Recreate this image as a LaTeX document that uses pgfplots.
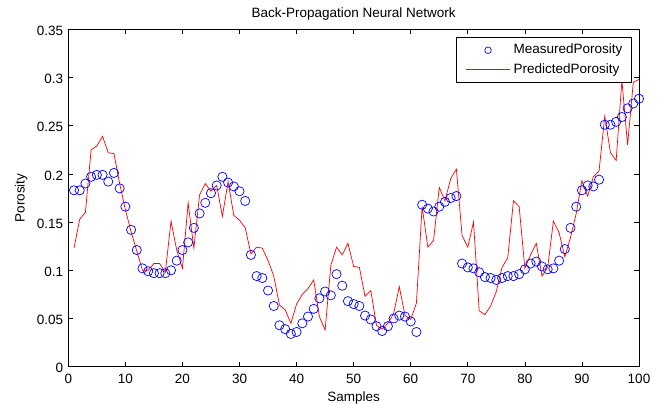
\documentclass[border=0pt]{standalone}
\usepackage{fontspec}
\setmainfont{Liberation Sans}
\usepackage{pgfplots}
\pgfplotsset{compat=1.18}
\pgfplotsset{
  markleg/.style={legend image code/.code={
    \draw[##1, mark size=3.3pt] plot[only marks] coordinates {(21.85pt,0pt)};}},
  lineleg/.style={legend image code/.code={\draw[color=red, draw=red, line width=0.8pt, solid] (0pt,0pt) -- (43.7pt,0pt);}},
}
\begin{document}
\begin{tikzpicture}[font=\fontsize{13.5}{16}\selectfont]
\begin{axis}[
  scale only axis, width=570.7pt, height=337.4pt,
  xmin=0, xmax=100, ymin=0, ymax=0.35,
  xtick={0,10,20,30,40,50,60,70,80,90,100},
  ytick={0,0.05,0.1,0.15,0.2,0.25,0.3,0.35},
  yticklabels={0,0.05,0.1,0.15,0.2,0.25,0.3,0.35},
  /pgf/number format/assume math mode=true,
  tick align=inside, tick pos=both, major tick length=5pt,
  axis line style={black, line width=1pt},
  every tick/.style={black, line width=0.7pt},
  xticklabel style={anchor=base, inner sep=0pt, yshift=-17.3pt},
  yticklabel style={anchor=east, inner sep=0pt, xshift=-5pt, yshift=-1.5pt},
  title={Back-Propagation Neural Network},
  every axis title/.style={at={(axis description cs:0.5,1.034)}, anchor=base, inner sep=0pt},
  xlabel={Samples},
  every axis x label/.style={at={(axis description cs:0.5,-0.1031)}, anchor=base, inner sep=0pt},
  ylabel={Porosity},
  every axis y label/.style={at={(axis description cs:-0.0767,0.5)}, rotate=90, anchor=base, inner sep=0pt},
  clip=false,
  legend cell align=left,
  legend style={draw=black, line width=0.9pt, fill=white,
    at={(axis description cs:0.9883,0.9763)}, anchor=north east,
    inner xsep=9.5pt, inner ysep=6pt, row sep=6.5pt, column sep=3.3pt,
    font=\fontsize{13.5}{15}\selectfont,
    nodes={inner sep=0pt, text height=10pt, text depth=3pt}},
]
\addplot[only marks, mark=o, mark size=4.6pt, color=blue, mark options={line width=0.7pt}, markleg] coordinates {
(1,0.183) (2,0.183) (3,0.190) (4,0.197) (5,0.199) (6,0.199) (7,0.192) (8,0.201) (9,0.185) (10,0.166)
(11,0.142) (12,0.121) (13,0.102) (14,0.099) (15,0.097) (16,0.097) (17,0.097) (18,0.100) (19,0.110) (20,0.121)
(21,0.129) (22,0.144) (23,0.159) (24,0.170) (25,0.180) (26,0.188) (27,0.197) (28,0.191) (29,0.187) (30,0.182)
(31,0.172) (32,0.116) (33,0.094) (34,0.092) (35,0.079) (36,0.063) (37,0.043) (38,0.039) (39,0.034) (40,0.036)
(41,0.045) (42,0.052) (43,0.060) (44,0.071) (45,0.078) (46,0.074) (47,0.096) (48,0.084) (49,0.068) (50,0.065)
(51,0.063) (52,0.053) (53,0.049) (54,0.042) (55,0.037) (56,0.042) (57,0.050) (58,0.053) (59,0.052) (60,0.047)
(61,0.036) (62,0.168) (63,0.164) (64,0.161) (65,0.166) (66,0.171) (67,0.175) (68,0.177) (69,0.107) (70,0.103)
(71,0.102) (72,0.098) (73,0.093) (74,0.092) (75,0.090) (76,0.092) (77,0.094) (78,0.094) (79,0.096) (80,0.101)
(81,0.107) (82,0.109) (83,0.104) (84,0.101) (85,0.102) (86,0.110) (87,0.122) (88,0.144) (89,0.166) (90,0.183)
(91,0.188) (92,0.187) (93,0.194) (94,0.251) (95,0.251) (96,0.254) (97,0.259) (98,0.268) (99,0.273) (100,0.278)
};
\addlegendentry{MeasuredPorosity}
\addplot[color=red, line width=0.7pt, mark=none, lineleg] coordinates {
(1,0.123) (2,0.153) (3,0.160) (4,0.225) (5,0.229) (6,0.239) (7,0.222) (8,0.221) (9,0.190) (10,0.163)
(11,0.140) (12,0.120) (13,0.100) (14,0.100) (15,0.107) (16,0.107) (17,0.098) (18,0.151) (19,0.121) (20,0.102)
(21,0.170) (22,0.123) (23,0.178) (24,0.190) (25,0.182) (26,0.188) (27,0.156) (28,0.192) (29,0.157) (30,0.152)
(31,0.144) (32,0.117) (33,0.124) (34,0.123) (35,0.110) (36,0.094) (37,0.064) (38,0.059) (39,0.045) (40,0.065)
(41,0.075) (42,0.081) (43,0.090) (44,0.052) (45,0.038) (46,0.105) (47,0.124) (48,0.116) (49,0.128) (50,0.104)
(51,0.103) (52,0.073) (53,0.079) (54,0.043) (55,0.039) (56,0.045) (57,0.055) (58,0.083) (59,0.053) (60,0.049)
(61,0.066) (62,0.166) (63,0.124) (64,0.131) (65,0.186) (66,0.172) (67,0.195) (68,0.205) (69,0.136) (70,0.124)
(71,0.150) (72,0.058) (73,0.054) (74,0.063) (75,0.078) (76,0.103) (77,0.113) (78,0.172) (79,0.166) (80,0.102)
(81,0.116) (82,0.128) (83,0.094) (84,0.103) (85,0.151) (86,0.139) (87,0.114) (88,0.134) (89,0.159) (90,0.193)
(91,0.177) (92,0.197) (93,0.203) (94,0.260) (95,0.222) (96,0.214) (97,0.297) (98,0.230) (99,0.295) (100,0.298)
};
\addlegendentry{PredictedPorosity}
\coordinate (bl) at (rel axis cs:0,0);
\coordinate (tr) at (rel axis cs:1,1);
\end{axis}
\pgfresetboundingbox
\path[use as bounding box] ([xshift=-68.3pt,yshift=-37.3pt]bl) rectangle ([xshift=18pt,yshift=29.3pt]tr);
\end{tikzpicture}
\end{document}
